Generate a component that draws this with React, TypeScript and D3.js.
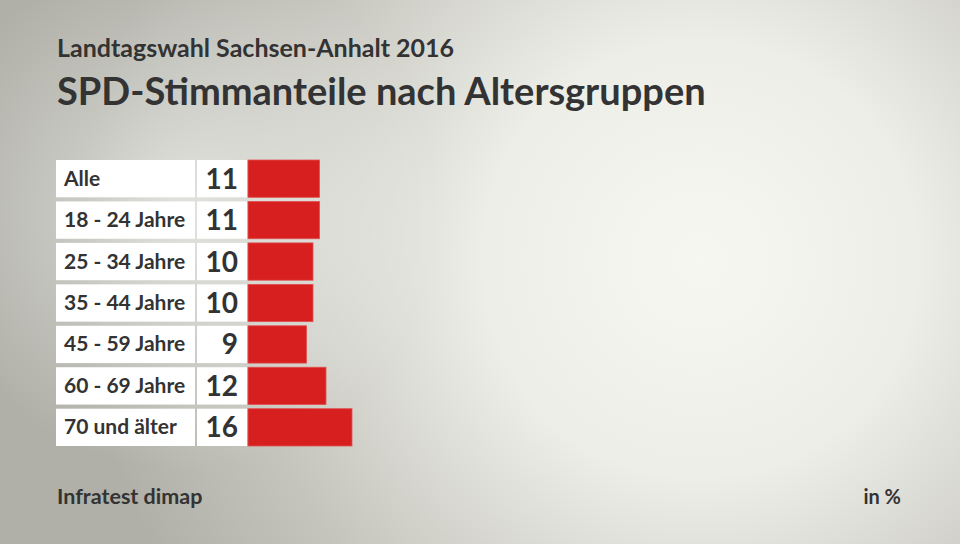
import * as d3 from "d3";

const categories = ["Alle", "18 - 24 Jahre", "25 - 34 Jahre", "35 - 44 Jahre", "45 - 59 Jahre", "60 - 69 Jahre", "70 und älter"];
const values = [11, 11, 10, 10, 9, 12, 16];
const title = "SPD-Stimmanteile nach Altersgruppen";
const subtitle = "Landtagswahl Sachsen-Anhalt 2016";
const source = "Infratest dimap";
const unit = "in %";

const W = 960,
  H = 544;
const font = "Lato, 'Open Sans', sans-serif";

export default function App() {
  const y = d3.scaleBand().domain(categories).range([160, 446]).paddingInner(0.1);
  const x = d3.scaleLinear().domain([0, 16]).range([248, 352]);

  return (
    <svg width={W} height={H} style={{ position: "absolute", left: 0, top: 0 }}>
      <defs>
        <radialGradient id="bg" cx="700" cy="260" r="620" gradientUnits="userSpaceOnUse">
          <stop offset="0" stopColor="#f7f7f2" />
          <stop offset="0.35" stopColor="#eeeee9" />
          <stop offset="0.75" stopColor="#c4c4bc" />
          <stop offset="1" stopColor="#b0b0a8" />
        </radialGradient>
        <radialGradient id="bg2" cx="180" cy="210" r="260" gradientUnits="userSpaceOnUse">
          <stop offset="0" stopColor="#ffffff" stopOpacity="0.55" />
          <stop offset="1" stopColor="#ffffff" stopOpacity="0" />
        </radialGradient>
      </defs>
      <rect width={W} height={H} fill="url(#bg)" />
      <rect width={W} height={H} fill="url(#bg2)" />

      <text x={57} y={57} fontFamily={font} fontWeight={700} fontSize={25} fill="#333">
        {subtitle}
      </text>
      <text x={57} y={105} fontFamily={font} fontWeight={700} fontSize={38} fill="#333">
        {title}
      </text>

      {categories.map((c, i) => {
        const top = y(c)!;
        const h = y.bandwidth();
        return (
          <g key={c}>
            <rect x={56} y={top} width={139} height={h} fill="#fff" />
            <rect x={197} y={top} width={50} height={h} fill="#fff" />
            <rect x={x(0)} y={top} width={x(values[i]) - x(0)} height={h} fill="#d81f1f" stroke="#e05050" strokeWidth={0.8} />
            <text x={64} y={top + h / 2 + 7} fontFamily={font} fontWeight={700} fontSize={21} fill="#333">
              {c}
            </text>
            <text x={238} y={top + h / 2 + 10} textAnchor="end" fontFamily={font} fontWeight={700} fontSize={28} fill="#333">
              {values[i]}
            </text>
          </g>
        );
      })}

      <text x={57} y={504} fontFamily={font} fontWeight={700} fontSize={21.5} fill="#333">
        {source}
      </text>
      <text x={901} y={504} textAnchor="end" fontFamily={font} fontWeight={700} fontSize={20} fill="#333">
        {unit}
      </text>
    </svg>
  );
}
